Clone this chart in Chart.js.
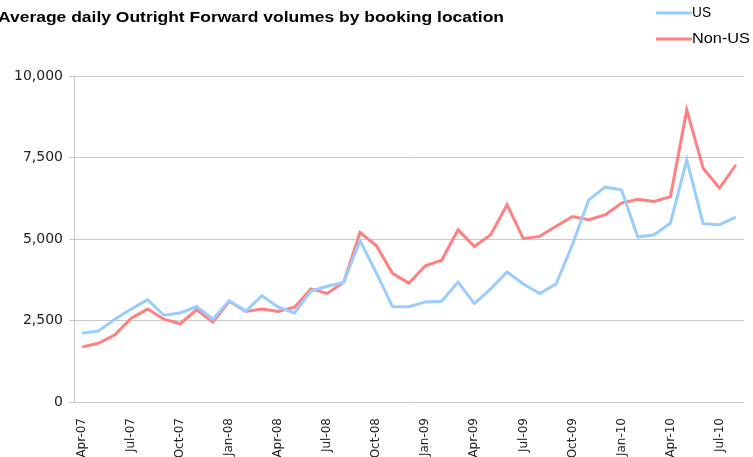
<!DOCTYPE html>
<html>
<head>
<meta charset="utf-8">
<script src="https://cdn.jsdelivr.net/npm/chart.js@4"></script>
<style>
  html, body { margin: 0; padding: 0; background: #fff; }
  #wrap { width: 753px; height: 457px; }
</style>
</head>
<body>
<div id="wrap"><canvas id="myChart" width="753" height="457"></canvas></div>
<script>
// monthly categories Apr-07 .. Aug-10
const months = [
  'Apr-07','May-07','Jun-07','Jul-07','Aug-07','Sep-07','Oct-07','Nov-07','Dec-07',
  'Jan-08','Feb-08','Mar-08','Apr-08','May-08','Jun-08','Jul-08','Aug-08','Sep-08','Oct-08','Nov-08','Dec-08',
  'Jan-09','Feb-09','Mar-09','Apr-09','May-09','Jun-09','Jul-09','Aug-09','Sep-09','Oct-09','Nov-09','Dec-09',
  'Jan-10','Feb-10','Mar-10','Apr-10','May-10','Jun-10','Jul-10','Aug-10'
];

const usValues = [
  2110, 2180, 2540, 2850, 3140, 2660, 2730, 2930, 2540,
  3110, 2780, 3260, 2910, 2730, 3400, 3550, 3670, 4950, 3960, 2920, 2920,
  3070, 3090, 3680, 3020, 3470, 3990, 3620, 3330, 3620, 4830, 6200, 6590,
  6510, 5060, 5130, 5490, 7430, 5470, 5440, 5670
];

const nonUsValues = [
  1690, 1800, 2060, 2570, 2850, 2540, 2400, 2830, 2450,
  3090, 2780, 2850, 2780, 2910, 3470, 3330, 3670, 5200, 4800, 3940, 3650,
  4180, 4350, 5280, 4770, 5130, 6050, 5010, 5080, 5390, 5690, 5590, 5740,
  6100, 6220, 6150, 6300, 8960, 7170, 6560, 7270
];

const yTicks = [0, 2500, 5000, 7500, 10000];

const titleText = 'Average daily Outright Forward volumes by booking location';
const seriesNames = ['US', 'Non-US'];
const seriesColors = ['#99ccff', '#ff8080'];

let ctx = document.getElementById('myChart').getContext('2d');

// draw text squeezed/stretched to a given width (the original text is wide)
function wideText(c, text, x, y, width) {
  const w = c.measureText(text).width;
  c.save();
  c.translate(x, y);
  c.scale(width / w, 1);
  c.fillText(text, 0, 0);
  c.restore();
}

// title + legend drawn by hand so they sit where the original has them
const headerPlugin = {
  id: 'header',
  afterDraw(chart) {
    const c = chart.ctx;
    c.save();
    c.fillStyle = '#000';
    c.textBaseline = 'middle';
    c.textAlign = 'left';
    c.font = 'bold 14px "Liberation Sans", Arial, sans-serif';
    wideText(c, titleText, -2, 18, 506);

    c.font = '14px "Liberation Sans", Arial, sans-serif';
    const rows = [13, 39];
    const widths = [19, 58];
    seriesNames.forEach((name, i) => {
      c.strokeStyle = seriesColors[i];
      c.lineWidth = 3;
      c.beginPath();
      c.moveTo(656, rows[i]);
      c.lineTo(692, rows[i]);
      c.stroke();
      c.fillStyle = '#000';
      wideText(c, name, 692, rows[i], widths[i]);
    });
    c.restore();
  }
};

let myChart = new Chart(ctx, {
  type: 'line',
  data: {
    labels: months,
    datasets: [
      {
        label: seriesNames[0],
        data: usValues,
        borderColor: seriesColors[0],
        borderWidth: 3,
        pointRadius: 0,
        tension: 0,
        fill: false
      },
      {
        label: seriesNames[1],
        data: nonUsValues,
        borderColor: seriesColors[1],
        borderWidth: 3,
        pointRadius: 0,
        tension: 0,
        fill: false
      }
    ]
  },
  options: {
    responsive: false,
    animation: false,
    layout: { padding: { top: 76, right: 9, bottom: 0, left: 0 } },
    plugins: {
      legend: { display: false },
      title: { display: false },
      tooltip: { enabled: false }
    },
    scales: {
      x: {
        offset: true,
        grid: { display: false },
        border: { display: false },
        afterFit: s => { s.height = 55; s.paddingLeft = 0; s.paddingRight = 0; },
        ticks: {
          autoSkip: false,
          maxRotation: 90,
          minRotation: 90,
          padding: 8,
          color: '#222',
          font: { family: 'DejaVu Sans', size: 12 },
          callback: function(val, i) { return i % 3 === 0 ? months[i] : ''; }
        }
      },
      y: {
        min: 0,
        max: 10000,
        afterFit: s => { s.width = 74; },
        afterBuildTicks: s => { s.ticks = yTicks.map(v => ({ value: v })); },
        grid: { color: '#c8c8c8', tickLength: 5, tickColor: '#c8c8c8' },
        border: { color: '#c8c8c8' },
        ticks: {
          padding: 6,
          color: '#222',
          font: { family: 'DejaVu Sans', size: 14 },
          callback: v => v.toLocaleString('en-US')
        }
      }
    }
  },
  plugins: [headerPlugin]
});
</script>
</body>
</html>
